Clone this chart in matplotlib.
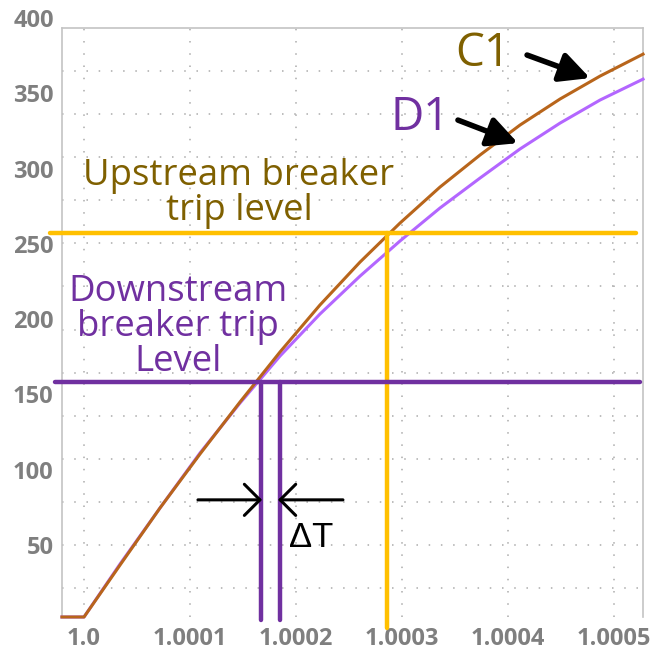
import matplotlib
matplotlib.use("Agg")
import matplotlib.pyplot as plt
import numpy as np

# time axis (per unit) shared by both curves
t = [0.9999792, 1.0, 1.000034, 1.0000717, 1.0001094, 1.0001472, 1.0001849,
     1.0002226, 1.0002604, 1.0002981, 1.0003358, 1.0003736, 1.0004113,
     1.0004491, 1.0004868, 1.0005274]
c1 = [2.2, 2.2, 36.7, 74.6, 110.4, 145.0, 178.2,
      209.4, 237.9, 263.8, 287.7, 309.0, 328.9,
      346.2, 361.4, 376.0]
d1 = [2.2, 2.2, 37.4, 74.6, 111.1, 144.3, 175.5,
      203.4, 228.6, 251.9, 273.8, 293.7, 313.0,
      330.2, 345.5, 359.4]

# trip levels and trip times
up_level = 257.2
down_level = 158.2
up_trip_t = 1.0002858
down_trip_t = [1.000167, 1.0001849]

x_ticks = [1.0, 1.0001, 1.0002, 1.0003, 1.0004, 1.0005]
x_labels = ["1.0", "1.0001", "1.0002", "1.0003", "1.0004", "1.0005"]
y_ticks = [50, 100, 150, 200, 250, 300, 350, 400]

BROWN = "#b8651b"
LILAC = "#b366ff"
GOLD = "#ffc000"
PURPLE = "#7030a0"
OLIVE = "#7f6000"
GRID = "#ababab"
FONT = "Open Sans"

XMIN, XMAX = 0.99997925, 1.00052736
YMIN, YMAX = 2.2, 400
YTOP = 393.3

fig = plt.figure(figsize=(6.72, 6.59), dpi=100)
ax = fig.add_axes([62 / 672, 1 - 617 / 659, 581 / 672, 599 / 659])
ax.set_xlim(XMIN, XMAX)
ax.set_ylim(YMIN, YMAX)

# dotted grid
grid_y = 21.5 + 28.6 * np.arange(13)
ax.hlines(grid_y, XMIN, XMAX, colors=GRID, lw=1.1, linestyles=(0, (1, 7)), zorder=1)
ax.vlines(x_ticks, YMIN, YTOP, colors=GRID, lw=1.1, linestyles=(0, (1, 7)), zorder=1)

for side in ["left", "right", "top"]:
    ax.spines[side].set_color("#c4c4c4")
    ax.spines[side].set_linewidth(1.2)
ax.spines["bottom"].set_visible(False)
ax.spines["top"].set_position(("data", YTOP))
ax.spines["left"].set_bounds(YMIN, YTOP)
ax.spines["right"].set_bounds(YMIN, YTOP)

ax.set_xticks(x_ticks, x_labels)
ax.set_yticks(y_ticks)
ax.tick_params(length=0, labelsize=17, labelcolor="#7f7f7f")
ax.tick_params(axis="x", pad=7)
ax.tick_params(axis="y", pad=6)
for lab in ax.get_xticklabels() + ax.get_yticklabels():
    lab.set_fontfamily(FONT)
    lab.set_fontweight("bold")

# curves
ax.plot(t, d1, color=LILAC, lw=2.2, zorder=3, clip_on=False)
ax.plot(t, c1, color=BROWN, lw=2.2, zorder=4, clip_on=False)

# trip levels
ax.plot([0.999968, 1.0005208], [up_level, up_level], color=GOLD, lw=3.2,
        solid_capstyle="round", zorder=5, clip_on=False)
ax.plot([up_trip_t, up_trip_t], [up_level, -5.1], color=GOLD, lw=3.2,
        solid_capstyle="round", zorder=5, clip_on=False)
ax.plot([0.9999726, 1.0005245], [down_level, down_level], color=PURPLE, lw=3.2,
        solid_capstyle="round", zorder=5, clip_on=False)
for tt in down_trip_t:
    ax.plot([tt, tt], [down_level, 0.2], color=PURPLE, lw=3.2,
            solid_capstyle="round", zorder=5, clip_on=False)

# labels
ax.text(1.0001462, 283.4, "Upstream breaker\ntrip level", color=OLIVE,
        fontsize=26.3, family=FONT, ha="center", va="center", linespacing=0.95, zorder=6)
ax.text(1.0000887, 194.8, "Downstream\nbreaker trip\nLevel", color=PURPLE,
        fontsize=26.3, family=FONT, ha="center", va="center", linespacing=0.95, zorder=6)
ax.text(1.0003764, 376, "C1", color=OLIVE, fontsize=33, family=FONT,
        ha="center", va="center", zorder=6)
ax.text(1.000317, 333.5, "D1", color=PURPLE, fontsize=33, family=FONT,
        ha="center", va="center", zorder=6)
ax.text(1.0002142, 54.7, "ΔT", color="black", fontsize=25, family="Liberation Sans",
        ha="center", va="center", zorder=6)

# pointer arrows
big = dict(arrowstyle="-|>,head_length=1.0,head_width=0.5", mutation_scale=18,
           lw=4, color="black", shrinkA=0, shrinkB=0)
ax.annotate("", xy=(1.0004774, 360.1), xytext=(1.000418, 375.4), arrowprops=big, zorder=7)
ax.annotate("", xy=(1.0004094, 316.9), xytext=(1.0003528, 332.2), arrowprops=big, zorder=7)

small = dict(arrowstyle="->,head_length=0.8,head_width=0.8", mutation_scale=14,
             lw=2.2, color="black", shrinkA=0, shrinkB=0)
ax.annotate("", xy=(1.000168, 80), xytext=(1.0001075, 80), arrowprops=small, zorder=7)
ax.annotate("", xy=(1.000183, 80), xytext=(1.0002443, 80), arrowprops=small, zorder=7)

fig.savefig("out.png", dpi=100)
